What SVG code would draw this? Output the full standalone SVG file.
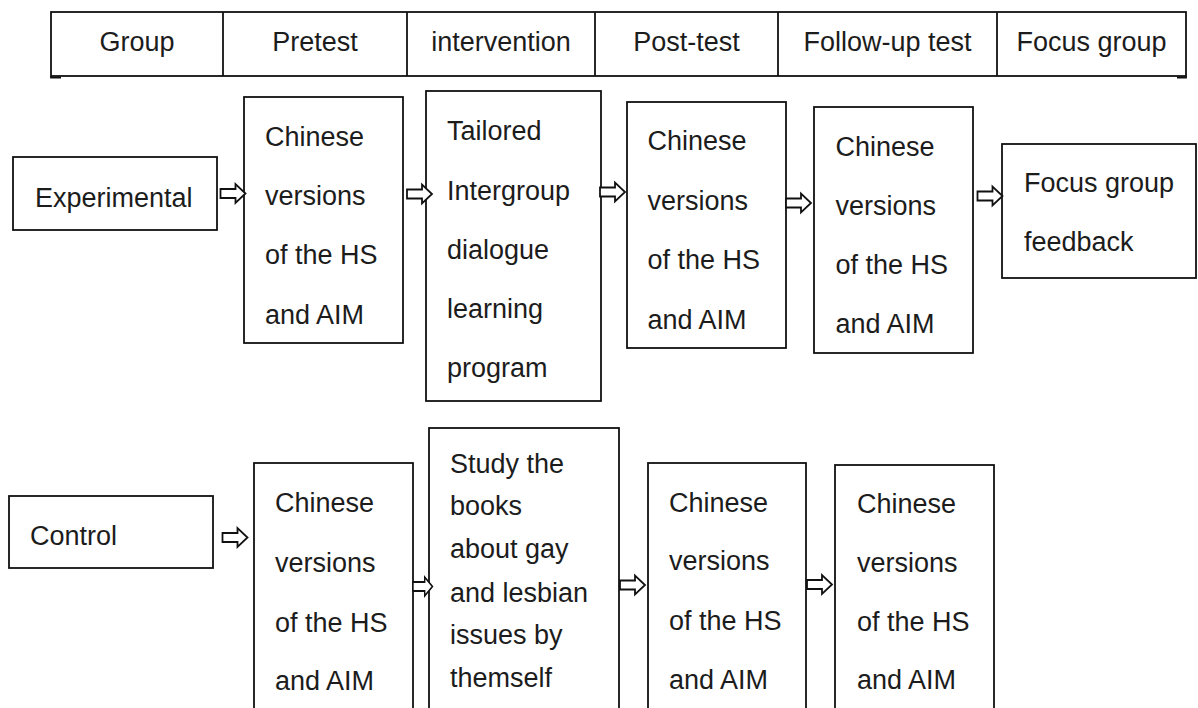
<svg xmlns="http://www.w3.org/2000/svg" xmlns:xlink="http://www.w3.org/1999/xlink" width="1198" height="708" viewBox="0 0 1198 708">
  <style>
    .box { fill: none; stroke: #111; stroke-width: 1.8; }
    .rule { stroke: #111; stroke-width: 1.8; fill: none; }
    .lbl { font-family: "Liberation Sans", Arial, sans-serif; font-size: 27px; fill: #1c1c1c; }
    .hd { font-family: "Liberation Sans", Arial, sans-serif; font-size: 27px; fill: #1c1c1c; text-anchor: middle; }
    .arrow { fill: #fff; stroke: #111; stroke-width: 1.8; stroke-linejoin: miter; }
  </style>
  <defs>
    <!-- hollow block arrow, origin at the tail centre -->
    <path id="blockArrow" class="arrow" d="M0,-4.5 H15 V-9.5 L25,0 L15,9.5 V4.5 H0 Z"/>
  </defs>

  <rect width="1198" height="708" fill="#fff"/>

  <!-- column header table -->
  <g id="header">
    <rect class="box" x="51" y="12" width="1135" height="64"/>
    <line class="rule" x1="223" y1="12" x2="223" y2="76"/>
    <line class="rule" x1="407" y1="12" x2="407" y2="76"/>
    <line class="rule" x1="595" y1="12" x2="595" y2="76"/>
    <line class="rule" x1="778" y1="12" x2="778" y2="76"/>
    <line class="rule" x1="997" y1="12" x2="997" y2="76"/>
    <path class="rule" d="M51,76 V78.5 M51,77.5 H61 M1186,76 V78.5 M1186,77.5 H1177"/>
    <text class="hd" x="137" y="51">Group</text>
    <text class="hd" x="315" y="51">Pretest</text>
    <text class="hd" x="501" y="51">intervention</text>
    <text class="hd" x="686.5" y="51">Post-test</text>
    <text class="hd" x="887.5" y="51">Follow-up test</text>
    <text class="hd" x="1091.5" y="51">Focus group</text>
  </g>

  <!-- experimental group row -->
  <g id="exp-group">
    <rect class="box" x="13" y="157" width="204" height="73"/>
    <text class="lbl" x="35" y="206.5">Experimental</text>
  </g>
  <g id="exp-pretest">
    <rect class="box" x="244" y="97" width="159" height="246"/>
    <text class="lbl" x="265" y="146">Chinese</text>
    <text class="lbl" x="265" y="204.5">versions</text>
    <text class="lbl" x="265" y="264">of the HS</text>
    <text class="lbl" x="265" y="323.5">and AIM</text>
  </g>
  <g id="exp-intervention">
    <rect class="box" x="426" y="91" width="175" height="310"/>
    <text class="lbl" x="447" y="140">Tailored</text>
    <text class="lbl" x="447" y="199.5">Intergroup</text>
    <text class="lbl" x="447" y="259">dialogue</text>
    <text class="lbl" x="447" y="318">learning</text>
    <text class="lbl" x="447" y="377">program</text>
  </g>
  <g id="exp-posttest">
    <rect class="box" x="627" y="102" width="159" height="246"/>
    <text class="lbl" x="647.5" y="150">Chinese</text>
    <text class="lbl" x="647.5" y="209.5">versions</text>
    <text class="lbl" x="647.5" y="269">of the HS</text>
    <text class="lbl" x="647.5" y="328.5">and AIM</text>
  </g>
  <g id="exp-followup">
    <rect class="box" x="814" y="107" width="159" height="246"/>
    <text class="lbl" x="835.5" y="155.5">Chinese</text>
    <text class="lbl" x="835.5" y="214.5">versions</text>
    <text class="lbl" x="835.5" y="274">of the HS</text>
    <text class="lbl" x="835.5" y="333">and AIM</text>
  </g>
  <g id="exp-focus">
    <rect class="box" x="1002" y="144" width="194" height="134"/>
    <text class="lbl" x="1024" y="192">Focus group</text>
    <text class="lbl" x="1024" y="251">feedback</text>
  </g>

  <!-- control group row -->
  <g id="ctl-group">
    <rect class="box" x="9" y="496" width="204" height="72"/>
    <text class="lbl" x="30" y="545">Control</text>
  </g>
  <g id="ctl-pretest">
    <rect class="box" x="254" y="463" width="159" height="260"/>
    <text class="lbl" x="275" y="511.5">Chinese</text>
    <text class="lbl" x="275" y="571.5">versions</text>
    <text class="lbl" x="275" y="631.5">of the HS</text>
    <text class="lbl" x="275" y="690">and AIM</text>
  </g>
  <g id="ctl-intervention">
    <rect class="box" x="429" y="428" width="190" height="300"/>
    <text class="lbl" x="450" y="473">Study the</text>
    <text class="lbl" x="450" y="515">books</text>
    <text class="lbl" x="450" y="558">about gay</text>
    <text class="lbl" x="450" y="601.5">and lesbian</text>
    <text class="lbl" x="450" y="643.5">issues by</text>
    <text class="lbl" x="450" y="686.5">themself</text>
  </g>
  <g id="ctl-posttest">
    <rect class="box" x="648" y="463" width="158" height="260"/>
    <text class="lbl" x="669" y="511.5">Chinese</text>
    <text class="lbl" x="669" y="570">versions</text>
    <text class="lbl" x="669" y="629.5">of the HS</text>
    <text class="lbl" x="669" y="688.5">and AIM</text>
  </g>
  <g id="ctl-followup">
    <rect class="box" x="835" y="465" width="159" height="260"/>
    <text class="lbl" x="857" y="513">Chinese</text>
    <text class="lbl" x="857" y="571.5">versions</text>
    <text class="lbl" x="857" y="631">of the HS</text>
    <text class="lbl" x="857" y="689">and AIM</text>
  </g>

  <!-- flow arrows -->
  <g id="connectors">
    <use xlink:href="#blockArrow" href="#blockArrow" transform="translate(220.5,193.5)"/>
    <use xlink:href="#blockArrow" href="#blockArrow" transform="translate(407,194)"/>
    <use xlink:href="#blockArrow" href="#blockArrow" transform="translate(600,192)"/>
    <use xlink:href="#blockArrow" href="#blockArrow" transform="translate(786,203)"/>
    <use xlink:href="#blockArrow" href="#blockArrow" transform="translate(977.5,196)"/>

    <use xlink:href="#blockArrow" href="#blockArrow" transform="translate(222.5,537.5)"/>
    <use xlink:href="#blockArrow" href="#blockArrow" transform="translate(413,586.5) scale(0.78,1)"/>
    <use xlink:href="#blockArrow" href="#blockArrow" transform="translate(620,585)"/>
    <use xlink:href="#blockArrow" href="#blockArrow" transform="translate(807,584.5)"/>
  </g>
</svg>
